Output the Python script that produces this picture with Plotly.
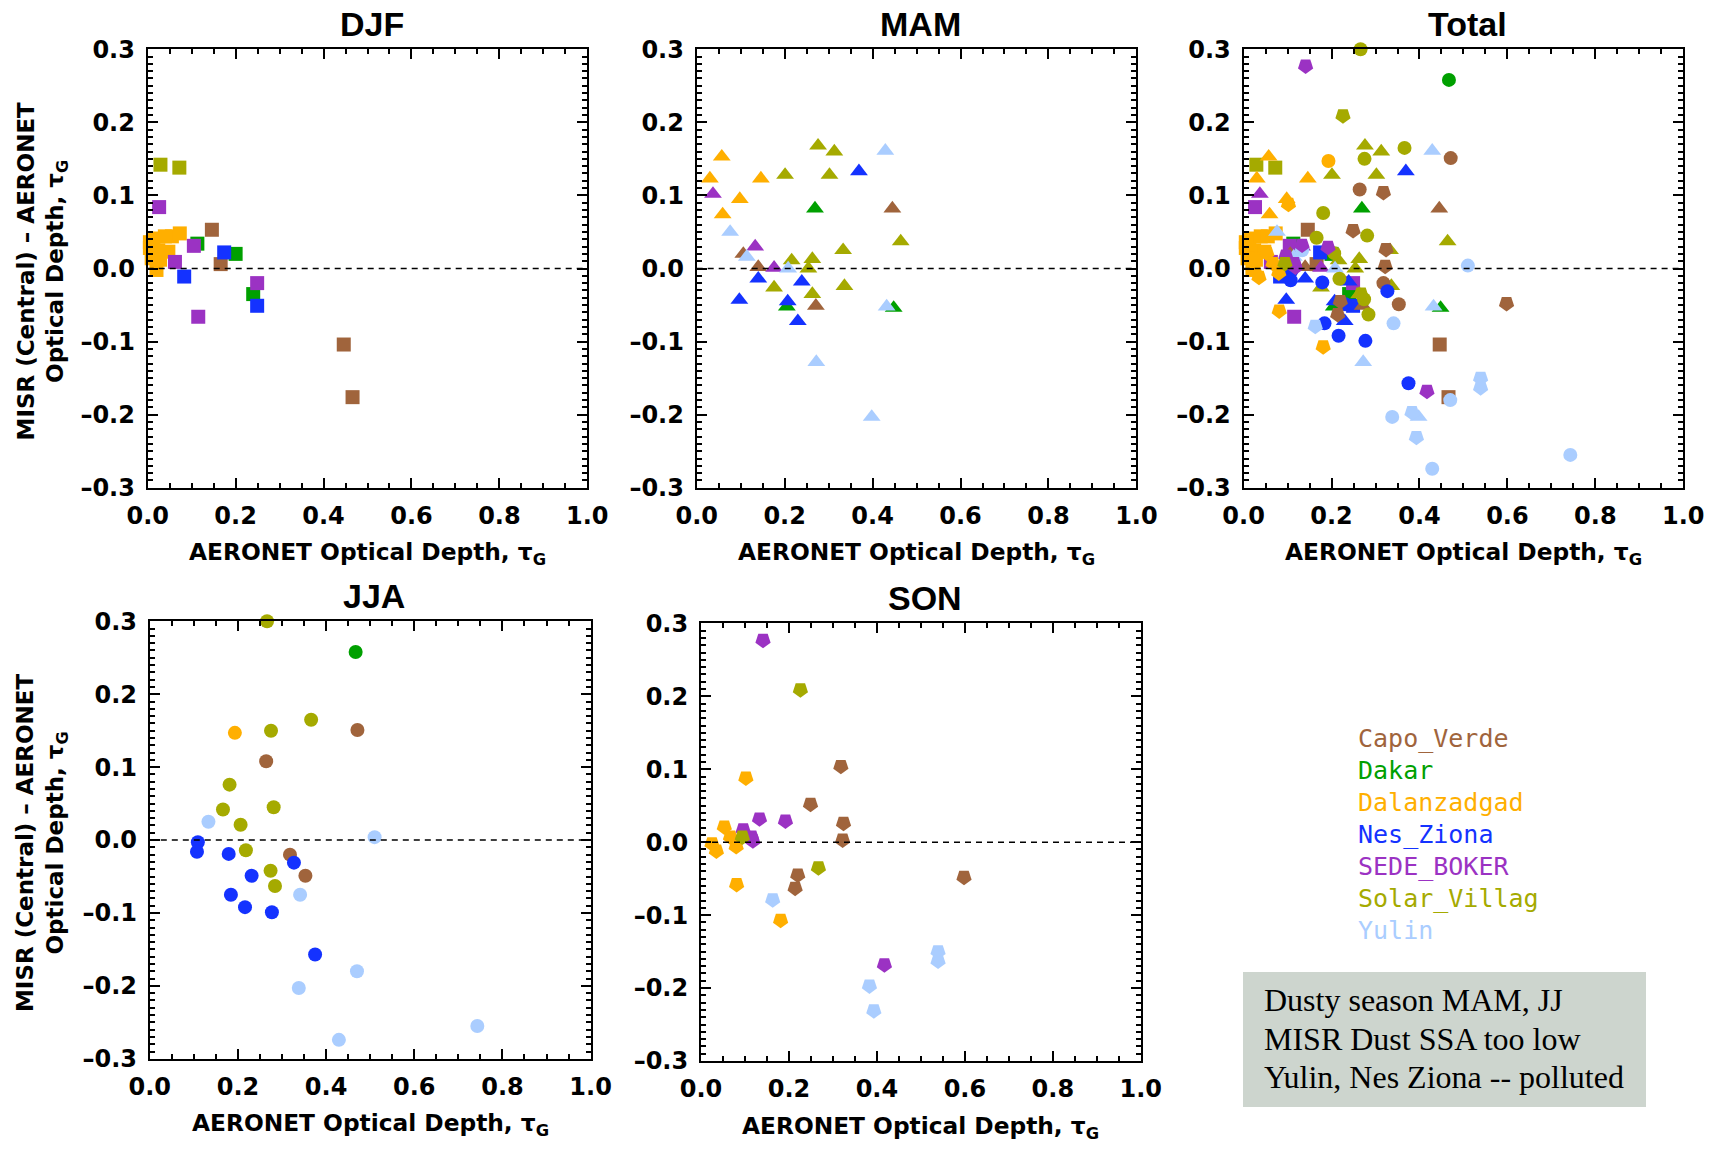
import plotly.graph_objects as go

W, H = 1715, 1151

# ---------------- data ----------------
stations = ["Capo_Verde", "Dakar", "Dalanzadgad", "Nes_Ziona", "SEDE_BOKER", "Solar_Villag", "Yulin"]
station_colors = ["#a0643c", "#00a000", "#ffaf00", "#1432ff", "#9b32c3", "#a5aa00", "#aacdff"]

# DJF (squares)
djf_site = (["Capo_Verde"] * 4 + ["Dakar"] * 3 + ["Dalanzadgad"] * 11 + ["Nes_Ziona"] * 3
            + ["SEDE_BOKER"] * 5 + ["Solar_Villag"] * 2)
djf_tau = [0.146, 0.166, 0.446, 0.466,
           0.113, 0.200, 0.240,
           0.013, 0.039, 0.055, 0.073, 0.005, 0.005, 0.024, 0.047, 0.009, 0.028, 0.020,
           0.174, 0.083, 0.249,
           0.026, 0.105, 0.062, 0.249, 0.115,
           0.029, 0.072]
djf_diff = [0.053, 0.006, -0.104, -0.176,
            0.034, 0.020, -0.035,
            0.041, 0.044, 0.044, 0.048, 0.036, 0.028, 0.025, 0.023, 0.014, 0.012, -0.002,
            0.022, -0.011, -0.051,
            0.084, 0.031, 0.009, -0.020, -0.066,
            0.142, 0.138]

# MAM (triangles)
mam_site = (["Capo_Verde"] * 4 + ["Dakar"] * 3 + ["Dalanzadgad"] * 5 + ["Nes_Ziona"] * 6
            + ["SEDE_BOKER"] * 3 + ["Solar_Villag"] * 12 + ["Yulin"] * 7)
mam_tau = [0.106, 0.140, 0.271, 0.445,
           0.269, 0.205, 0.448,
           0.057, 0.030, 0.146, 0.098, 0.059,
           0.369, 0.097, 0.140, 0.207, 0.239, 0.230,
           0.037, 0.133, 0.176,
           0.276, 0.313, 0.201, 0.302, 0.216, 0.263, 0.254, 0.333, 0.176, 0.263, 0.336, 0.464,
           0.076, 0.114, 0.208, 0.429, 0.432, 0.272, 0.398]
mam_diff = [0.020, 0.002, -0.051, 0.082,
            0.082, -0.052, -0.054,
            0.153, 0.123, 0.123, 0.095, 0.074,
            0.133, -0.043, -0.014, -0.045, -0.018, -0.072,
            0.102, 0.030, 0.001,
            0.168, 0.160, 0.128, 0.128, 0.011, 0.013, 0.000, 0.025, -0.026, -0.035, -0.024, 0.037,
            0.050, 0.016, 0.000, 0.161, -0.052, -0.128, -0.203]

# JJA (circles)
jja_site = (["Capo_Verde"] * 4 + ["Dakar"] * 1 + ["Dalanzadgad"] * 1 + ["Nes_Ziona"] * 9
            + ["Solar_Villag"] * 10 + ["Yulin"] * 7)
jja_tau = [0.264, 0.471, 0.318, 0.353,
           0.467,
           0.193,
           0.109, 0.107, 0.179, 0.231, 0.184, 0.216, 0.277, 0.327, 0.375,
           0.266, 0.275, 0.366, 0.181, 0.166, 0.281, 0.206, 0.218, 0.274, 0.284,
           0.133, 0.510, 0.341, 0.470, 0.338, 0.429, 0.743]
jja_diff = [0.108, 0.151, -0.020, -0.049,
            0.258,
            0.147,
            -0.003, -0.016, -0.019, -0.049, -0.075, -0.092, -0.099, -0.031, -0.157,
            0.300, 0.150, 0.165, 0.076, 0.042, 0.045, 0.021, -0.014, -0.042, -0.063,
            0.025, 0.004, -0.075, -0.180, -0.203, -0.274, -0.255]

# SON (pentagons)
son_site = (["Capo_Verde"] * 7 + ["Dalanzadgad"] * 8 + ["SEDE_BOKER"] * 7
            + ["Solar_Villag"] * 3 + ["Yulin"] * 5)
son_tau = [0.318, 0.249, 0.324, 0.322, 0.220, 0.214, 0.598,
           0.102, 0.053, 0.067, 0.025, 0.035, 0.080, 0.081, 0.181,
           0.141, 0.133, 0.192, 0.096, 0.115, 0.118, 0.417,
           0.226, 0.094, 0.267,
           0.163, 0.383, 0.393, 0.539, 0.539]
son_diff = [0.104, 0.052, 0.026, 0.003, -0.045, -0.063, -0.048,
            0.088, 0.021, 0.007, -0.002, -0.012, -0.006, -0.058, -0.107,
            0.277, 0.032, 0.029, 0.017, 0.007, 0.002, -0.168,
            0.209, 0.007, -0.035,
            -0.079, -0.197, -0.231, -0.150, -0.163]

x_ticks = [0.0, 0.2, 0.4, 0.6, 0.8, 1.0]
y_ticks = [-0.3, -0.2, -0.1, 0.0, 0.1, 0.2, 0.3]

legend_lines = ["Capo_Verde", "Dakar", "Dalanzadgad", "Nes_Ziona", "SEDE_BOKER", "Solar_Villag", "Yulin"]
note_lines = ["Dusty season MAM, JJ", "MISR Dust SSA too low", "Yulin, Nes Ziona -- polluted"]

# ---------------- styling / layout ----------------
color_of = dict(zip(stations, station_colors))
season_data = {
    "DJF": (djf_site, djf_tau, djf_diff, "square", 0, 14),
    "MAM": (mam_site, mam_tau, mam_diff, "triangle-up", 0, 15.5),
    "JJA": (jja_site, jja_tau, jja_diff, "circle", 0, 14),
    "SON": (son_site, son_tau, son_diff, "pentagon", 180, 16),
}

# panel: name, (left, right, top, bottom) in px, seasons, y-title
panels = [
    ("DJF", (147.7, 587.3, 49.2, 487.8), ["DJF"], True),
    ("MAM", (696.7, 1136.4, 49.2, 487.8), ["MAM"], False),
    ("Total", (1243.6, 1683.3, 49.2, 487.8), ["DJF", "MAM", "JJA", "SON"], False),
    ("JJA", (149.8, 590.6, 621.3, 1058.8), ["JJA"], True),
    ("SON", (701.0, 1140.8, 623.4, 1061.0), ["SON"], False),
]


def px(x):
    return x / W


def py(y):
    return 1 - y / H


fig = go.Figure()
annotations = []
shapes = []
tick_font = dict(family="DejaVu Sans", size=24, color="black", weight="bold")

for i, (name, (l, r, t, b), seas, ytitle) in enumerate(panels, start=1):
    xa = "x" if i == 1 else f"x{i}"
    ya = "y" if i == 1 else f"y{i}"
    for s in seas:
        site, tau, diff, sym, ang, size = season_data[s]
        fig.add_trace(go.Scatter(
            x=tau, y=diff, mode="markers", xaxis=xa, yaxis=ya,
            marker=dict(symbol=sym, angle=ang, size=size,
                        color=[color_of[k] for k in site], line=dict(width=0)),
            cliponaxis=False, showlegend=False, hoverinfo="x+y",
        ))
    axcommon = dict(showgrid=False, zeroline=False, showline=True, linecolor="black", linewidth=2,
                    mirror="allticks", ticks="inside", tickwidth=2, tickcolor="black",
                    tickfont=tick_font, automargin=False)
    fig.layout[f"xaxis{'' if i == 1 else i}"] = dict(
        axcommon, domain=[px(l), px(r)], anchor=ya, range=[0, 1],
        tickvals=x_ticks, ticktext=[f"{v:.1f}" for v in x_ticks], ticklen=10,
        ticklabelstandoff=5,
        minor=dict(dtick=0.05, ticklen=5, tickwidth=2, tickcolor="black", ticks="inside", showgrid=False),
    )
    fig.layout[f"yaxis{'' if i == 1 else i}"] = dict(
        axcommon, domain=[py(b), py(t)], anchor=xa, range=[-0.3, 0.3],
        tickvals=y_ticks, ticktext=[f"{v:.1f}".replace("-", "\u2013") for v in y_ticks], ticklen=10,
        ticklabelstandoff=6,
        minor=dict(dtick=0.01, ticklen=5, tickwidth=1.5, tickcolor="black", ticks="inside", showgrid=False),
    )
    shapes.append(dict(type="line", xref=f"{xa} domain", yref=ya, x0=0, x1=1, y0=0, y1=0,
                       line=dict(color="black", width=1.5, dash="6px,5px"), layer="above"))
    # panel title
    annotations.append(dict(text=name, x=px((l + r) / 2 + 4), y=py(t - 25), xref="paper", yref="paper",
                            showarrow=False, xanchor="center", yanchor="middle",
                            font=dict(family="Liberation Sans", size=34, color="black", weight="bold")))
    # x title
    annotations.append(dict(text="AERONET Optical Depth, \u03c4<sub>G</sub>", x=px((l + r) / 2), y=py(b + 66),
                            xref="paper", yref="paper", showarrow=False, xanchor="center", yanchor="middle",
                            font=dict(family="DejaVu Sans", size=23.3, color="black", weight="bold")))
    if ytitle:
        annotations.append(dict(text="MISR (Central) \u2013 AERONET<br>Optical Depth, \u03c4<sub>G</sub>",
                                x=px(42), y=py((t + b) / 2 + 3), xref="paper", yref="paper", textangle=-90,
                                showarrow=False, xanchor="center", yanchor="middle",
                                font=dict(family="DejaVu Sans", size=23, color="black", weight="bold")))

# legend text
for k, (lab, col) in enumerate(zip(legend_lines, station_colors)):
    annotations.append(dict(text=lab, x=px(1356), y=py(738 + k * 32), xref="paper", yref="paper",
                            showarrow=False, xanchor="left", yanchor="middle",
                            font=dict(family="DejaVu Sans Mono", size=25, color=col)))

# note box
shapes.append(dict(type="rect", xref="paper", yref="paper", x0=px(1243), x1=px(1646), y0=py(1107), y1=py(972),
                   fillcolor="#cdd5ce", line=dict(width=0), layer="below"))
for k, line in enumerate(note_lines):
    annotations.append(dict(text=line, x=px(1262), y=py(1000 + k * 38.5), xref="paper", yref="paper",
                            showarrow=False, xanchor="left", yanchor="middle",
                            font=dict(family="Liberation Serif", size=32, color="black")))

fig.update_layout(width=W, height=H, margin=dict(l=0, r=0, t=0, b=0, pad=0, autoexpand=False),
                  paper_bgcolor="white", plot_bgcolor="white",
                  annotations=annotations, shapes=shapes, showlegend=False)

fig.write_html("out.html", config={"displayModeBar": False},
               post_script="document.body.style.margin='0px';")
